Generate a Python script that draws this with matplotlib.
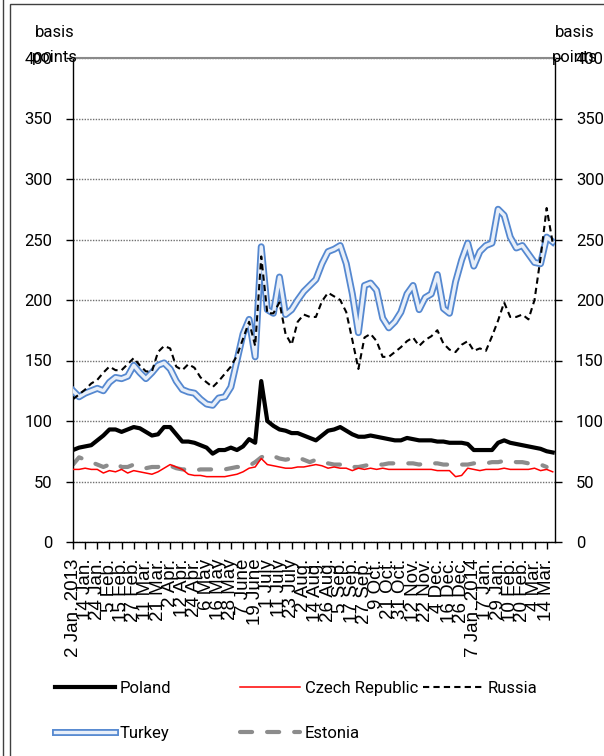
import numpy as np
import matplotlib
matplotlib.use("Agg")
import matplotlib.pyplot as plt
from matplotlib.lines import Line2D
from matplotlib.patches import Rectangle

# business-day offsets from 2 Jan 2013, one reading every 4 business days
day_index = np.arange(0, 317, 4)

# one tick every 8 business days
tick_pos = np.arange(0, 313, 8)
tick_labels = ["2 Jan. 2013", "14 Jan.", "24 Jan.", "5 Feb.", "15 Feb.", "27 Feb.",
               "11 Mar.", "21 Mar.", "2 Apr.", "12 Apr.", "24 Apr.", "6 May", "16 May",
               "28 May", "7 June", "19 June", "1 July", "11 July", "23 July", "2 Aug.",
               "14 Aug.", "26 Aug.", "5 Sep.", "17 Sep.", "27 Sep.", "9 Oct.", "21 Oct.",
               "31 Oct.", "12 Nov.", "22 Nov.", "4 Dec.", "16 Dec.", "26 Dec.",
               "7 Jan. 2014", "17 Jan.", "29 Jan.", "10 Feb.", "20 Feb.", "4 Mar.", "14 Mar."]

# CDS spreads, basis points
poland = [76, 78, 79, 80, 84, 88, 93, 93, 91, 93,
          95, 94, 91, 88, 89, 95, 95, 89, 83, 83,
          82, 80, 78, 73, 76, 76, 78, 76, 79, 85,
          82, 133, 100, 96, 93, 92, 90, 90, 88, 86,
          84, 88, 92, 93, 95, 92, 89, 87, 87, 88,
          87, 86, 85, 84, 84, 86, 85, 84, 84, 84,
          83, 83, 82, 82, 82, 81, 76, 76, 76, 76,
          82, 84, 82, 81, 80, 79, 78, 77, 75, 74]

czech = [60, 60, 61, 60, 60, 57, 59, 58, 60, 57,
         59, 58, 57, 56, 58, 61, 64, 62, 60, 56,
         55, 55, 54, 54, 54, 54, 55, 56, 58, 61,
         62, 69, 64, 63, 62, 61, 61, 62, 62, 63,
         64, 63, 61, 62, 61, 61, 59, 61, 60, 61,
         60, 61, 60, 60, 60, 60, 60, 60, 60, 60,
         59, 59, 59, 54, 55, 61, 60, 59, 60, 60,
         60, 61, 60, 60, 60, 60, 61, 59, 60, 58]

russia = [118, 122, 126, 131, 134, 140, 145, 142, 142, 147,
          152, 146, 141, 141, 157, 162, 160, 145, 142, 147,
          144, 136, 132, 128, 133, 139, 145, 154, 168, 182,
          162, 236, 189, 189, 198, 172, 163, 182, 188, 186,
          186, 199, 206, 203, 200, 190, 167, 143, 169, 172,
          166, 153, 153, 157, 161, 166, 169, 162, 167, 170,
          175, 164, 159, 157, 163, 166, 158, 160, 158, 170,
          183, 198, 186, 186, 188, 184, 200, 235, 276, 247]

turkey = [125, 120, 123, 125, 127, 125, 132, 136, 135, 137,
          146, 140, 135, 140, 146, 148, 143, 133, 126, 124,
          123, 118, 114, 113, 119, 120, 128, 150, 172, 184,
          153, 244, 192, 189, 219, 188, 192, 200, 207, 212,
          217, 230, 240, 242, 245, 230, 205, 173, 212, 214,
          208, 185, 177, 182, 190, 205, 212, 192, 202, 205,
          221, 193, 189, 215, 233, 247, 228, 240, 245, 247,
          275, 270, 252, 243, 245, 238, 231, 230, 252, 248]

estonia = [64, 70, 68, 66, 64, 62, 64, 65, 62, 62,
           64, 62, 61, 62, 62, 64, 63, 61, 60, 60,
           59, 60, 60, 60, 60, 60, 61, 62, 62, 63,
           66, 70, 72, 71, 69, 68, 69, 70, 68, 66,
           68, 66, 65, 64, 64, 64, 62, 62, 63, 64,
           64, 64, 65, 65, 65, 65, 65, 64, 65, 65,
           65, 64, 64, 64, 64, 64, 65, 65, 65, 66,
           66, 67, 67, 66, 66, 65, 65, 64, 62]

plt.rcParams['font.family'] = ['Roboto', 'DejaVu Sans']

W, H = 604, 756
fig = plt.figure(figsize=(W / 100, H / 100), dpi=100)
ax = fig.add_axes([73 / W, 1 - 542 / H, (555 - 73) / W, (542 - 58) / H])

blue = '#5588d0'
l_cz, = ax.plot(day_index, czech, color='#ff0000', lw=1.1, zorder=3)
l_ee, = ax.plot(day_index[:len(estonia)], estonia, color='#8c8c8c', lw=3,
                dashes=(2.9, 3.6), dash_capstyle='round', zorder=2)
l_pl, = ax.plot(day_index, poland, color='black', lw=3, solid_joinstyle='round', zorder=4)
l_tr_o, = ax.plot(day_index, turkey, color=blue, lw=5, solid_joinstyle='round', zorder=5)
l_tr_i, = ax.plot(day_index, turkey, color='#e8eff9', lw=2.4, solid_joinstyle='round', zorder=5)
l_ru, = ax.plot(day_index, russia, color='black', lw=1.5, dashes=(3, 2), zorder=6)

ax.set_xlim(0, 317.5)
ax.set_ylim(0, 400)
ax.set_yticks(np.arange(0, 401, 50))
ax.grid(axis='y', color='#707070', lw=1.0, linestyle=(0, (1, 1)))
ax.set_axisbelow(True)

ax.set_xticks(tick_pos)
ax.set_xticklabels(tick_labels, rotation=90, fontsize=13.5, family='Liberation Sans')
ax.tick_params(axis='x', direction='out', length=5, width=1, pad=7)
ax.tick_params(axis='y', direction='out', length=5, width=1, left=True, right=True,
               labelleft=True, labelright=True, labelsize=12, pad=10)

for side in ['left', 'right', 'bottom']:
    ax.spines[side].set_color('black')
    ax.spines[side].set_linewidth(1)
ax.spines['top'].set_color('#8a8a8a')
ax.spines['top'].set_linewidth(1.5)

fig.text(55 / W, 1 - 45 / H, 'basis\npoints', ha='center', va='center', fontsize=12, linespacing=1.9)
fig.text(575 / W, 1 - 45 / H, 'basis\npoints', ha='center', va='center', fontsize=12, linespacing=1.9)

# legend in three columns, like the original layout
leg_kw = dict(loc='upper left', frameon=False, borderpad=0, borderaxespad=0,
              handlelength=3.6, handletextpad=0.3, labelspacing=1.8, fontsize=12)
leg1 = fig.legend([l_pl, (l_tr_o, l_tr_i)], ['Poland', 'Turkey'],
                  bbox_to_anchor=(55 / W, 1 - 681 / H), **leg_kw)
leg2 = fig.legend([l_cz, l_ee], ['Czech Republic', 'Estonia'],
                  bbox_to_anchor=(240 / W, 1 - 681 / H), **leg_kw)
leg3 = fig.legend([l_ru], ['Russia'],
                  bbox_to_anchor=(423 / W, 1 - 681 / H), **leg_kw)

# outer frame of the exhibit
fig.add_artist(Rectangle((10 / W, -0.1), 1.0, 1.1 - 4 / H, transform=fig.transFigure,
                         fill=False, ec='#404040', lw=1))
fig.add_artist(Line2D([3 / W, 3 / W], [0, 1], transform=fig.transFigure, color='#404040', lw=1))

fig.savefig('out.png', dpi=100)
